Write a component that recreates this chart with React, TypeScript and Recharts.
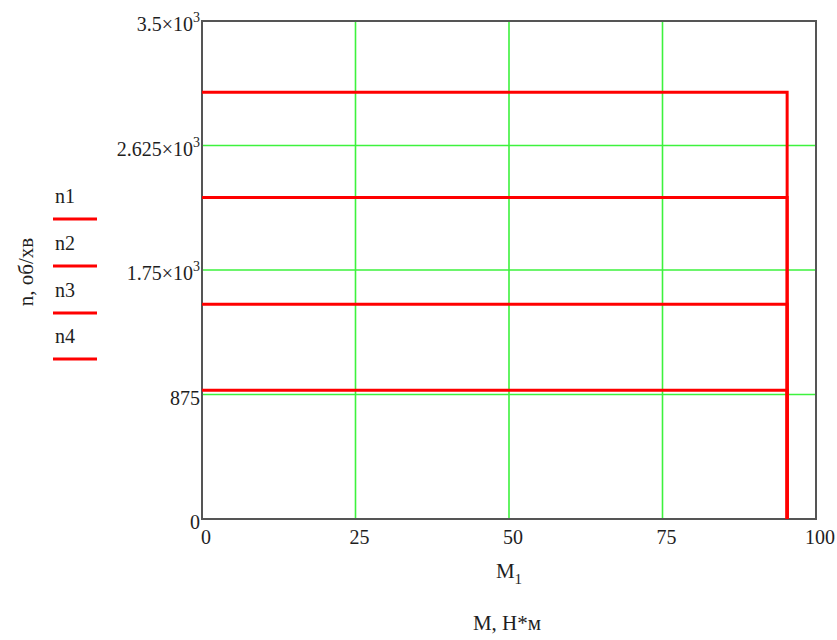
import React from 'react';
import { LineChart, Line, XAxis, YAxis, CartesianGrid, ReferenceArea } from 'recharts';

// speed curves n(M): each line is flat at its speed up to the max torque, then drops to 0
const seriesNames = ['n1', 'n2', 'n3', 'n4'];
const speeds = [3000, 2260, 1510, 905];
const maxTorque = 95.3;

const xTicks = [0, 25, 50, 75, 100];
const yTicks = [0, 875, 1750, 2625, 3500];

const FONT = '"Liberation Serif", "DejaVu Serif", serif';
const TEXT = '#1e1e1e';
const RED = '#ff0000';
const GREEN = '#3df23d';
const FRAME = '#555';

const series = seriesNames.map((name, i) => ({
  name,
  data: [
    { M: 0, n: speeds[i] },
    { M: maxTorque, n: speeds[i] },
    { M: maxTorque, n: 0 },
  ],
}));

const XTick = ({ x, y, payload }: any) => (
  <text x={x + 4} y={y + 25} textAnchor="middle" fontFamily={FONT} fontSize={20} fill={TEXT}>
    {payload.value}
  </text>
);

const YTick = ({ x, y, payload }: any) => {
  const v = payload.value as number;
  if (v < 1000) {
    return (
      <text x={x - 2} y={y + 10} textAnchor="end" fontFamily={FONT} fontSize={20} fill={TEXT}>
        {v}
      </text>
    );
  }
  return (
    <text x={x - 2} y={y + 10} textAnchor="end" fontFamily={FONT} fontSize={20} fill={TEXT}>
      {`${v / 1000}×10`}
      <tspan dy={-9} fontSize={14}>3</tspan>
    </text>
  );
};

const XLabel = ({ viewBox }: any) => {
  const cx = viewBox.x + viewBox.width / 2;
  return (
    <g fontFamily={FONT} fill={TEXT}>
      <text x={cx} y={viewBox.y + 59} textAnchor="middle" fontSize={21}>
        M<tspan dy={6} fontSize={15}>1</tspan>
      </text>
      <text x={cx - 2} y={viewBox.y + 111} textAnchor="middle" fontSize={21}>
        M, H*м
      </text>
    </g>
  );
};

const YLabel = ({ viewBox }: any) => {
  const x = viewBox.x + 11;
  const y = 272;
  return (
    <text
      x={x}
      y={y}
      transform={`rotate(-90 ${x} ${y})`}
      textAnchor="middle"
      fontFamily={FONT}
      fontSize={21}
      fill={TEXT}
    >
      n, об/хв
    </text>
  );
};

const legendRows = [219, 266, 313, 359];

export default function App() {
  return (
    <div style={{ position: 'absolute', left: 0, top: 0, width: 837, height: 640, background: '#fff' }}>
      <LineChart width={837} height={640} margin={{ top: 21, right: 21, bottom: 91, left: 22 }}>
        <CartesianGrid stroke={GREEN} strokeWidth={1.6} />
        <XAxis
          type="number"
          dataKey="M"
          domain={[0, 100]}
          ticks={xTicks}
          allowDataOverflow
          height={30}
          axisLine={false}
          tickLine={false}
          tickSize={0}
          tickMargin={0}
          tick={<XTick />}
          label={<XLabel />}
        />
        <YAxis
          type="number"
          dataKey="n"
          domain={[0, 3500]}
          ticks={yTicks}
          allowDataOverflow
          width={180}
          axisLine={false}
          tickLine={false}
          tickSize={0}
          tickMargin={0}
          tick={<YTick />}
          label={<YLabel />}
        />
        <ReferenceArea x1={0} x2={100} y1={0} y2={3500} fill="none" stroke={FRAME} strokeWidth={2} />
        {series.map((s) => (
          <Line
            key={s.name}
            data={s.data}
            dataKey="n"
            name={s.name}
            type="linear"
            stroke={RED}
            strokeWidth={3}
            dot={false}
            activeDot={false}
            isAnimationActive={false}
          />
        ))}
      </LineChart>
      <svg style={{ position: 'absolute', left: 0, top: 0 }} width={120} height={640}>
        {seriesNames.map((name, i) => (
          <g key={name}>
            <text x={55} y={legendRows[i] - 16} fontFamily={FONT} fontSize={20} fill={TEXT}>
              {name}
            </text>
            <line x1={53} x2={97} y1={legendRows[i]} y2={legendRows[i]} stroke={RED} strokeWidth={3} />
          </g>
        ))}
      </svg>
    </div>
  );
}
